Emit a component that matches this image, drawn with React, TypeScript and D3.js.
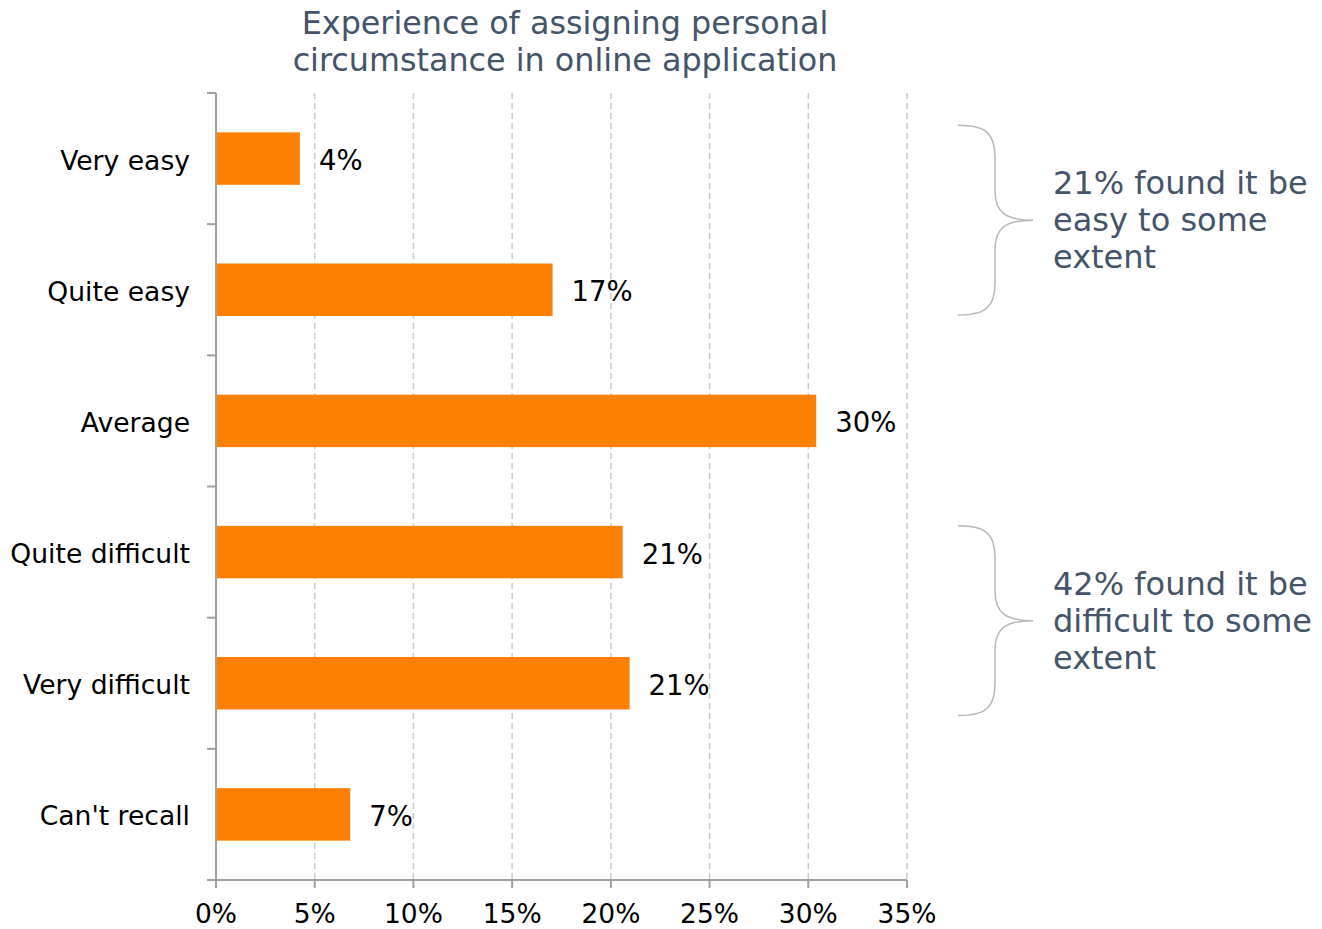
import React from "react";
import * as d3 from "d3";

const categories = ["Very easy", "Quite easy", "Average", "Quite difficult", "Very difficult", "Can't recall"];
const values = [4.25, 17.05, 30.4, 20.6, 20.95, 6.8];
const valueLabels = ["4%", "17%", "30%", "21%", "21%", "7%"];
const xTicks = [0, 5, 10, 15, 20, 25, 30, 35];
const titleLines = ["Experience of assigning personal", "circumstance in online application"];
const annotations = [
  { from: "Very easy", to: "Quite easy", shift: 0, lines: ["21% found it be", "easy to some", "extent"] },
  { from: "Quite difficult", to: "Very difficult", shift: 7, lines: ["42% found it be", "difficult to some", "extent"] },
];

const W = 1322, H = 929;
const FONT = "Verdana, 'DejaVu Sans', sans-serif";
const SLATE = "#44546A";

export default function App() {
  const x = d3.scaleLinear().domain([0, 35]).range([216, 907]);
  const y = d3.scaleBand<string>().domain(categories).range([93, 880]).paddingInner(0.6).paddingOuter(0.3);
  const step = y.step();
  const y0 = 93;

  const brace = (top: number, bottom: number) => {
    const xl = 958, xv = 995, xp = 1033;
    const mid = (top + bottom) / 2;
    return `M${xl},${top} C${xl + 28},${top} ${xv},${top + 8} ${xv},${top + 32} L${xv},${mid - 30} C${xv},${mid - 8} ${xv + 10},${mid} ${xp},${mid} C${xv + 10},${mid} ${xv},${mid + 8} ${xv},${mid + 30} L${xv},${bottom - 32} C${xv},${bottom - 8} ${xl + 28},${bottom} ${xl},${bottom}`;
  };

  return (
    <svg width={W} height={H} style={{ position: "absolute", left: 0, top: 0, background: "#fff" }} fontFamily={FONT}>
      {titleLines.map((t, i) => (
        <text key={i} x={565} y={22 + i * 37} dominantBaseline="central" textAnchor="middle" fontSize={31.8} fill={SLATE}>{t}</text>
      ))}
      {xTicks.filter((t) => t > 0).map((t) => (
        <line key={t} x1={x(t)} x2={x(t)} y1={93} y2={880} stroke="#c5ccc9" strokeWidth={1.5} strokeDasharray="6,4" />
      ))}
      {categories.map((c, i) => (
        <g key={c}>
          <rect x={x(0)} y={y(c)!} width={x(values[i]) - x(0)} height={y.bandwidth()} fill="#FF7F00" />
          <text x={x(values[i]) + 19} y={y(c)! + y.bandwidth() / 2 + 1.5} dominantBaseline="central" fontSize={27.5} fill="#000">{valueLabels[i]}</text>
          <text x={190} y={y(c)! + y.bandwidth() / 2 + 1.5} dominantBaseline="central" textAnchor="end" fontSize={26.6} fill="#000">{c}</text>
        </g>
      ))}
      <line x1={216} x2={216} y1={93} y2={880} stroke="#a0a0a0" strokeWidth={2} />
      {d3.range(categories.length + 1).map((i) => (
        <line key={i} x1={207} x2={216} y1={y0 + i * step} y2={y0 + i * step} stroke="#a0a0a0" strokeWidth={2} />
      ))}
      <line x1={207} x2={907} y1={880} y2={880} stroke="#a0a0a0" strokeWidth={2} />
      {xTicks.map((t) => (
        <g key={t}>
          <line x1={x(t)} x2={x(t)} y1={880} y2={888} stroke="#a0a0a0" strokeWidth={2} />
          <text x={x(t)} y={913} textAnchor="middle" dominantBaseline="central" fontSize={26.5} fill="#000">{t}%</text>
        </g>
      ))}
      {annotations.map((a, k) => {
        const top = y(a.from)! - 7 + a.shift;
        const bottom = y(a.to)! + y.bandwidth() - 1 + a.shift;
        const mid = (top + bottom) / 2;
        return (
          <g key={k}>
            <path d={brace(top, bottom)} fill="none" stroke="#b8b8b8" strokeWidth={1.5} />
            {a.lines.map((l, j) => (
              <text key={j} x={1053} y={mid + (j - 1) * 37} dominantBaseline="central" fontSize={32} fill={SLATE}>{l}</text>
            ))}
          </g>
        );
      })}
    </svg>
  );
}
